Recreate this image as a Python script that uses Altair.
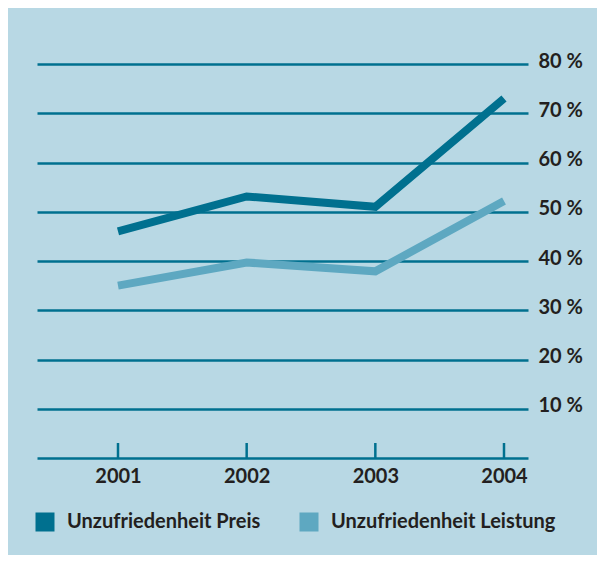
import altair as alt
import pandas as pd

years = [2001, 2002, 2003, 2004]
preis = [46.0, 53.1, 51.0, 73.0]
leistung = [35.0, 39.7, 37.9, 52.2]
series_names = ["Unzufriedenheit Preis", "Unzufriedenheit Leistung"]
series_colors = ["#00708f", "#5ea8c1"]
y_ticks = [10, 20, 30, 40, 50, 60, 70, 80]

rows = []
for name, col, vals in zip(series_names, series_colors, [preis, leistung]):
    for yr, v in zip(years, vals):
        rows.append({"Jahr": yr, "Wert": v, "Serie": name, "Farbe": col})
df = pd.DataFrame(rows)
df_years = pd.DataFrame({"Jahr": years})

FONT = "Lato"
FS = 20
TEXT = "#231f20"
GRID = "#00708f"

x_scale = alt.Scale(domain=[2000.3705, 2004.1865], nice=False, zero=False)
y_scale = alt.Scale(domain=[0, 80], nice=False)
col_scale = alt.Scale(domain=series_names, range=series_colors)

lines = alt.Chart(df).mark_line(strokeWidth=8, strokeCap="butt", strokeJoin="miter").encode(
    x=alt.X("Jahr:Q", scale=x_scale,
            axis=alt.Axis(title=None, values=years, format="d", grid=False, ticks=False,
                          tickSize=0, domainColor=GRID, domainWidth=2.5, labelPadding=8,
                          labelFont=FONT, labelFontWeight="bold", labelFontSize=FS,
                          labelColor=TEXT, labelFlush=False)),
    y=alt.Y("Wert:Q", scale=y_scale,
            axis=alt.Axis(title=None, orient="right", values=y_ticks, domain=False,
                          ticks=False, tickSize=0, grid=True, gridColor=GRID, gridWidth=2.5,
                          gridOpacity=1, labelPadding=10, labelExpr="datum.value + ' %'",
                          labelFont=FONT, labelFontWeight="bold", labelFontSize=FS,
                          labelColor=TEXT, labelBaseline="alphabetic", labelOffset=3,
                          labelAlign="left")),
    stroke=alt.Stroke("Farbe:N", scale=None),
    detail="Serie:N",
)

ticks = alt.Chart(df_years).mark_rule(color=GRID, strokeWidth=2.5).encode(
    x=alt.X("Jahr:Q", scale=x_scale),
    y=alt.value(379),
    y2=alt.value(394),
)

legend_layer = alt.Chart(df).mark_square(filled=True, opacity=0).encode(
    x=alt.X("Jahr:Q", scale=x_scale),
    y=alt.Y("Wert:Q", scale=y_scale),
    fill=alt.Fill("Serie:N", scale=col_scale,
                  legend=alt.Legend(title=None, orient="none", legendX=-2, legendY=448,
                                    direction="horizontal", symbolType="square",
                                    symbolSize=361, symbolStrokeWidth=0, symbolOpacity=1,
                                    labelFont=FONT,
                                    labelFontWeight="bold", labelFontSize=FS,
                                    labelColor=TEXT, labelOffset=12, columnPadding=38,
                                    padding=0, labelLimit=400)),
)

chart = alt.layer(lines, ticks, legend_layer).properties(
    width=491,
    height=394,
    autosize=alt.AutoSizeParams(type="none"),
    padding={"left": 29, "top": 56, "right": 69, "bottom": 97},
    background="#b8d8e4",
).configure_view(stroke=None)

chart.save("out.html", embed_options={"renderer": "svg", "actions": False})
